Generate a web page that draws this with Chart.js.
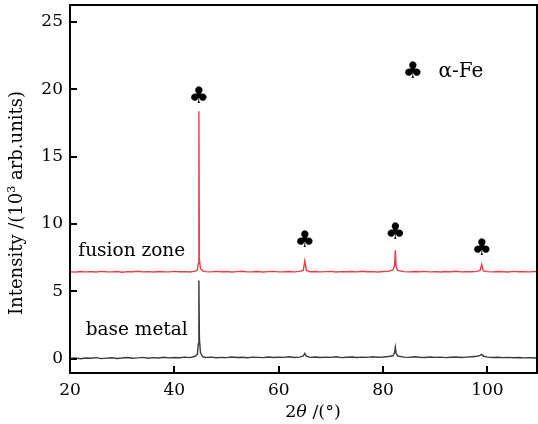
<!DOCTYPE html>
<html>
<head>
<meta charset="utf-8">
<script src="https://cdn.jsdelivr.net/npm/chart.js@4/dist/chart.umd.min.js"></script>
<style>
  html, body { margin: 0; padding: 0; background: #fff; }
  #wrap { width: 538px; height: 424px; }
</style>
</head>
<body>
<div id="wrap"><canvas id="xrdChart"></canvas></div>
<script>
// 2theta positions (deg), finer around the alpha-Fe peaks
var twoTheta = [20,21,22,23,24,25,26,27,28,29,30,31,32,33,34,35,36,37,38,39,40,41,42,43,44,
    44.4,44.6,44.7,44.8,45.0,45.4,
    46,47,48,49,50,51,52,53,54,55,56,57,58,59,60,61,62,63,64,
    64.7,65.0,65.3,
    66,67,68,69,70,71,72,73,74,75,76,77,78,79,80,81,
    81.9,82.2,82.35,82.5,82.8,
    84,85,86,87,88,89,90,91,92,93,94,95,96,97,98,
    98.6,98.9,99.2,
    100,101,102,103,104,105,106,107,108,109,110];

// intensity (10^3 arb. units)
var fusionZone = [6.45,6.42,6.47,6.44,6.46,6.43,6.48,6.45,6.44,6.47,6.42,6.46,6.45,6.49,6.44,6.46,6.43,6.47,6.45,6.44,6.48,6.45,6.46,6.43,6.50,
    6.58,7.1,18.35,7.4,6.7,6.52,
    6.46,6.44,6.48,6.45,6.47,6.43,6.46,6.49,6.44,6.45,6.47,6.43,6.46,6.48,6.44,6.45,6.47,6.44,6.48,
    6.55,7.25,6.55,
    6.45,6.47,6.44,6.46,6.48,6.43,6.46,6.45,6.47,6.44,6.49,6.45,6.46,6.43,6.47,6.48,
    6.58,6.9,8.05,6.8,6.55,
    6.46,6.44,6.47,6.45,6.48,6.44,6.46,6.43,6.47,6.45,6.49,6.44,6.46,6.45,6.48,
    6.55,7.0,6.52,
    6.46,6.44,6.47,6.45,6.43,6.48,6.45,6.46,6.44,6.47,6.45];

var baseMetal = [0.02,0.06,0.0,0.05,0.03,0.08,0.01,0.04,0.07,0.02,0.05,0.09,0.03,0.06,0.1,0.04,0.08,0.05,0.11,0.06,0.09,0.07,0.12,0.08,0.18,
    0.32,1.1,5.8,1.5,0.45,0.15,
    0.09,0.12,0.07,0.1,0.08,0.13,0.09,0.11,0.07,0.12,0.1,0.08,0.13,0.09,0.11,0.1,0.14,0.09,0.12,
    0.2,0.4,0.18,
    0.1,0.13,0.09,0.12,0.1,0.14,0.08,0.11,0.13,0.09,0.12,0.1,0.14,0.11,0.13,0.16,
    0.22,0.45,0.85,0.4,0.2,
    0.12,0.1,0.14,0.11,0.09,0.13,0.1,0.12,0.08,0.11,0.13,0.09,0.12,0.15,0.18,
    0.25,0.32,0.2,
    0.12,0.09,0.11,0.08,0.1,0.07,0.09,0.06,0.08,0.05,0.07];

var xTicks = [20, 40, 60, 80, 100];
var yTicks = [0, 5, 10, 15, 20, 25];

// peak markers (club symbol) above the alpha-Fe reflections
var peakAngles = [44.7, 65.0, 82.35, 98.9];
var peakMarkLevels = [19.4, 8.7, 9.3, 8.1];

var seriesLabels = ['fusion zone', 'base metal'];

function toPoints(xs, ys) {
    return xs.map(function(x, i) { return { x: x, y: ys[i] }; });
}

var serif = '"DejaVu Serif", "Liberation Serif", serif';

// draw runs of [text, font, dy] left to right from x
function drawRuns(ctx, runs, x, y) {
    runs.forEach(function(r) {
        ctx.font = r[1];
        ctx.fillText(r[0], x, y + (r[2] || 0));
        x += ctx.measureText(r[0]).width;
    });
}
function runsWidth(ctx, runs) {
    var w = 0;
    runs.forEach(function(r) { ctx.font = r[1]; w += ctx.measureText(r[0]).width; });
    return w;
}

var annotatePlugin = {
    id: 'annotate',
    afterDraw: function(chart) {
        var ctx = chart.ctx;
        var xs = chart.scales.x, ys = chart.scales.y;
        var area = chart.chartArea;
        ctx.save();

        // frame
        ctx.strokeStyle = '#000';
        ctx.lineWidth = 2;
        ctx.strokeRect(area.left, area.top, area.right - area.left, area.bottom - area.top);

        // inward ticks
        ctx.beginPath();
        xTicks.forEach(function(v) {
            var px = Math.round(xs.getPixelForValue(v));
            ctx.moveTo(px, area.bottom);
            ctx.lineTo(px, area.bottom - 7);
        });
        yTicks.forEach(function(v) {
            var py = Math.round(ys.getPixelForValue(v));
            ctx.moveTo(area.left, py);
            ctx.lineTo(area.left + 7, py);
        });
        ctx.stroke();

        // peak markers
        ctx.fillStyle = '#000';
        ctx.textAlign = 'center';
        ctx.textBaseline = 'middle';
        ctx.font = '23px "DejaVu Sans", sans-serif';
        peakAngles.forEach(function(a, i) {
            ctx.fillText('\u2663', xs.getPixelForValue(a), ys.getPixelForValue(peakMarkLevels[i]));
        });

        // phase key
        ctx.fillText('\u2663', xs.getPixelForValue(85.7), ys.getPixelForValue(21.3));
        ctx.textAlign = 'left';
        ctx.font = '20px ' + serif;
        ctx.fillText('\u03b1-Fe', xs.getPixelForValue(90.6), ys.getPixelForValue(21.3));

        // series labels
        ctx.textBaseline = 'alphabetic';
        ctx.font = '18.5px ' + serif;
        ctx.fillText(seriesLabels[0], xs.getPixelForValue(21.6), ys.getPixelForValue(7.65));
        ctx.fillText(seriesLabels[1], xs.getPixelForValue(23.0), ys.getPixelForValue(1.77));

        // x title with italic theta
        var xRuns = [['2', '17.5px ' + serif], ['\u03b8', 'italic 17.5px ' + serif], [' /(\u00b0)', '17.5px ' + serif]];
        drawRuns(ctx, xRuns, 313 - runsWidth(ctx, xRuns) / 2, 417);

        // y title, rotated, with superscript 3
        var yRuns = [['Intensity /(10', '18px ' + serif], ['3', '11px ' + serif, -7], [' arb.units)', '18px ' + serif]];
        ctx.translate(22, 203);
        ctx.rotate(-Math.PI / 2);
        drawRuns(ctx, yRuns, -runsWidth(ctx, yRuns) / 2, 0);
        ctx.restore();
    }
};

var ctx = document.getElementById('xrdChart');
new Chart(ctx, {
    type: 'line',
    data: {
        datasets: [{
            label: seriesLabels[0],
            data: toPoints(twoTheta, fusionZone),
            borderColor: '#f03c46',
            borderWidth: 1.4,
            pointRadius: 0,
            tension: 0
        }, {
            label: seriesLabels[1],
            data: toPoints(twoTheta, baseMetal),
            borderColor: '#3a3a3a',
            borderWidth: 1.4,
            pointRadius: 0,
            tension: 0
        }]
    },
    options: {
        responsive: true,
        maintainAspectRatio: false,
        animation: false,
        layout: { padding: { top: 5, right: 1, left: 0, bottom: 0 } },
        plugins: {
            legend: { display: false },
            tooltip: { enabled: false }
        },
        scales: {
            x: {
                type: 'linear',
                min: 20,
                max: 109.5,
                afterBuildTicks: function(scale) {
                    scale.ticks = xTicks.map(function(v) { return { value: v }; });
                },
                afterFit: function(scale) {
                    scale.height = 51;
                    scale.paddingLeft = 0;
                    scale.paddingRight = 0;
                },
                grid: { display: false, drawTicks: false },
                border: { display: false },
                ticks: {
                    color: '#000',
                    padding: 7,
                    maxRotation: 0,
                    font: { family: serif, size: 17 }
                }
            },
            y: {
                type: 'linear',
                min: -1.06,
                max: 26.24,
                afterBuildTicks: function(scale) {
                    scale.ticks = yTicks.map(function(v) { return { value: v }; });
                },
                afterFit: function(scale) {
                    scale.width = 70;
                    scale.paddingTop = 0;
                    scale.paddingBottom = 0;
                },
                grid: { display: false, drawTicks: false },
                border: { display: false },
                ticks: {
                    color: '#000',
                    padding: 7,
                    font: { family: serif, size: 17 }
                }
            }
        }
    },
    plugins: [annotatePlugin]
});
</script>
</body>
</html>
